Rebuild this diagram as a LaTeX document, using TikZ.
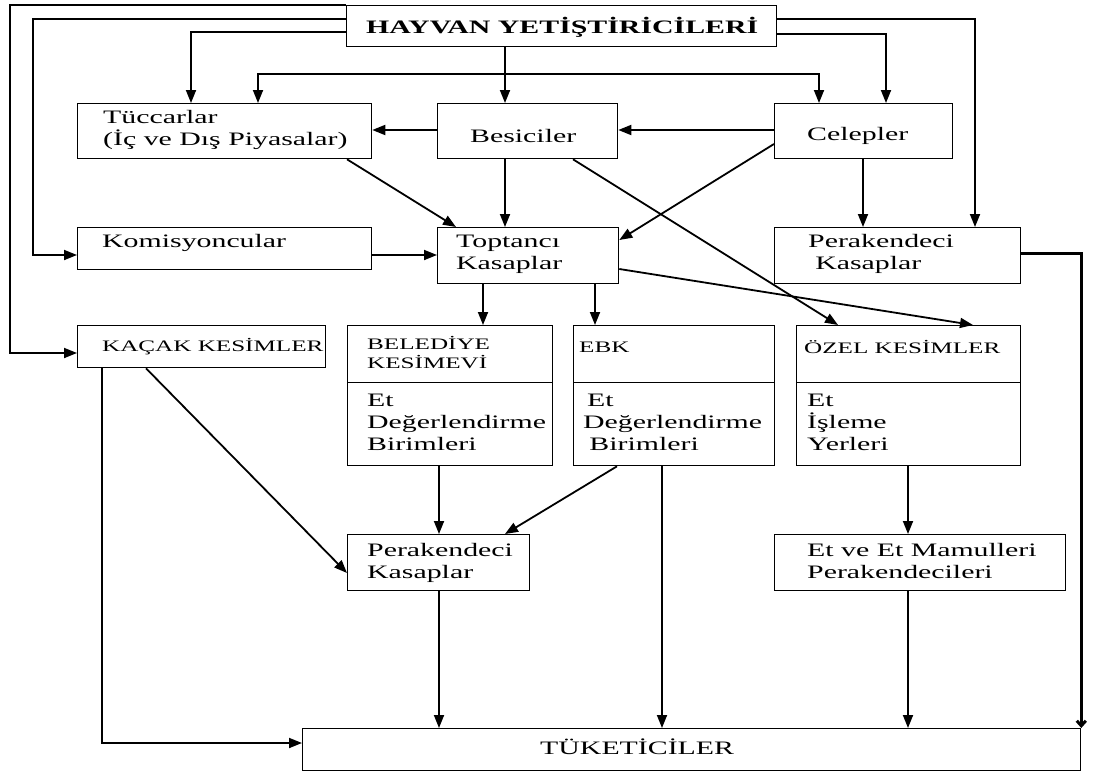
\documentclass[tikz,border=0pt]{standalone}
\usepackage{fontspec}
\setmainfont{Liberation Serif}
\usepackage{graphicx}
\usetikzlibrary{arrows.meta}
\newcommand{\sx}[1]{\scalebox{1.57}[1]{#1}}
\newcommand{\ml}[1]{\begin{tabular}{@{}l@{}}#1\end{tabular}}
\tikzset{
  box/.style={draw=black, line width=1.3pt, anchor=north west, inner sep=0pt},
  txt/.style={inner sep=0pt, anchor=west, font=\fontsize{19}{22}\selectfont},
  captxt/.style={inner sep=0pt, anchor=west, font=\fontsize{16}{17.5}\selectfont},
  arr/.style={line width=1.8pt, -{Triangle[length=13pt,width=10pt]}},
  darr/.style={line width=1.8pt, {Triangle[length=13pt,width=10pt]}-{Triangle[length=13pt,width=10pt]}},
  farr/.style={line width=3pt, -{Straight Barb[length=5pt,width=9pt]}},
}
\begin{document}
\begin{tikzpicture}[x=1pt,y=-1pt]
\useasboundingbox (0,0) rectangle (1093,771);
% boxes
\node[box, minimum width=430pt, minimum height=41pt] (hay) at (346,5) {};
\node[box, minimum width=294pt, minimum height=55pt] (tuc) at (77,103) {};
\node[box, minimum width=180pt, minimum height=55pt] (bes) at (437,103) {};
\node[box, minimum width=178pt, minimum height=55pt] (cel) at (774,103) {};
\node[box, minimum width=294pt, minimum height=42pt] (kom) at (77,227) {};
\node[box, minimum width=181pt, minimum height=56pt] (top) at (437,227) {};
\node[box, minimum width=246pt, minimum height=56pt] (perR) at (774,227) {};
\node[box, minimum width=248pt, minimum height=42pt] (kac) at (77,325) {};
\node[box, minimum width=205pt, minimum height=57pt] (belT) at (347,325) {};
\node[box, minimum width=205pt, minimum height=83pt] (belB) at (347,382) {};
\node[box, minimum width=201pt, minimum height=57pt] (ebkT) at (573,325) {};
\node[box, minimum width=201pt, minimum height=83pt] (ebkB) at (573,382) {};
\node[box, minimum width=224pt, minimum height=57pt] (ozeT) at (796,325) {};
\node[box, minimum width=224pt, minimum height=83pt] (ozeB) at (796,382) {};
\node[box, minimum width=182pt, minimum height=56pt] (perB) at (347,534) {};
\node[box, minimum width=291pt, minimum height=56pt] (etm) at (774,534) {};
\node[box, minimum width=778pt, minimum height=42pt] (tuk) at (302,728) {};
% texts
\node[txt, font=\fontsize{19}{22}\selectfont\bfseries] (thay) at (366,27) {\sx{HAYVAN YETİŞTİRİCİLERİ}};
\node[txt] (ttuc) at (103,130) {\sx{\ml{Tüccarlar\\(İç ve Dış Piyasalar)}}};
\node[txt] (tbes) at (470,136) {\sx{Besiciler}};
\node[txt] (tcel) at (807,136) {\sx{Celepler}};
\node[txt] (tkom) at (102,243) {\sx{Komisyoncular}};
\node[txt] (ttop) at (456,254) {\sx{\ml{Toptancı\\Kasaplar}}};
\node[txt] (tperR) at (808,254) {\sx{\ml{Perakendeci\\\hspace*{4.5pt}Kasaplar}}};
\node[captxt] (tkac) at (102,347) {\sx{KAÇAK KESİMLER}};
\node[captxt] (tbelT) at (367,355) {\sx{\ml{BELEDİYE\\KESİMEVİ}}};
\node[txt] (tbelB) at (367,424) {\sx{\ml{Et\\Değerlendirme\\Birimleri}}};
\node[captxt] (tebkT) at (579,347) {\sx{EBK}};
\node[txt] (tebkB) at (583,424) {\sx{\ml{\hspace*{2.5pt}Et\\Değerlendirme\\\hspace*{4pt}Birimleri}}};
\node[captxt] (tozeT) at (804,347) {\sx{ÖZEL KESİMLER}};
\node[txt] (tozeB) at (807,424) {\sx{\ml{Et\\İşleme\\Yerleri}}};
\node[txt] (tperB) at (367,563) {\sx{\ml{Perakendeci\\Kasaplar}}};
\node[txt] (tetm) at (807,563) {\sx{\ml{Et ve Et Mamulleri\\Perakendecileri}}};
\node[txt] (ttuk) at (540,747) {\sx{TÜKETİCİLER}};
% connectors from HAYVAN
\draw[arr] (hay.north west) -| (10,353) -- (kac.west |- 0,353);
\draw[arr] (hay.west |- 0,19) -| (33,255) -- (kom.west |- 0,255);
\draw[arr] (hay.west |- 0,32) -| (tuc.north -| 191,0);
\draw[arr] (hay.south -| 505,0) -- (bes.north -| 505,0);
\draw[darr] (tuc.north -| 258,0) |- (819,74) -- (cel.north -| 819,0);
\draw[arr] (hay.east |- 0,19) -| (perR.north -| 975,0);
\draw[arr] (hay.east |- 0,34) -| (cel.north -| 886,0);
% row 1
\draw[arr] (bes.west |- 0,130) -- (tuc.east |- 0,130);
\draw[arr] (cel.west |- 0,130) -- (bes.east |- 0,130);
\draw[arr] (tuc.south -| 347,0) -- (top.north -| 456,0);
\draw[arr] (bes.south -| 505,0) -- (top.north -| 505,0);
\draw[arr] (bes.south -| 573,0) -- (ozeT.north -| 838,0);
\draw[arr] (cel.west |- 0,144) -- (top.east |- 0,240);
\draw[arr] (cel.south -| 863,0) -- (perR.north -| 863,0);
% row 2
\draw[arr] (kom.east |- 0,255) -- (top.west |- 0,255);
\draw[arr] (top.south -| 483,0) -- (belT.north -| 483,0);
\draw[arr] (top.south -| 595,0) -- (ebkT.north -| 595,0);
\draw[arr] (top.east |- 0,269) -- (ozeT.north -| 973,0);
\draw[farr] (perR.east |- 0,253) -| (tuk.north east);
% lower part
\draw[arr] (kac.south -| 102,0) |- (tuk.west |- 0,743);
\draw[arr] (kac.south -| 146,0) -- (perB.west |- 0,573);
\draw[arr] (belB.south -| 439,0) -- (perB.north -| 439,0);
\draw[arr] (ebkB.south -| 617,0) -- (perB.north -| 505,0);
\draw[arr] (ebkB.south -| 662,0) -- (tuk.north -| 662,0);
\draw[arr] (ozeB.south -| 908,0) -- (etm.north -| 908,0);
\draw[arr] (perB.south -| 439,0) -- (tuk.north -| 439,0);
\draw[arr] (etm.south -| 908,0) -- (tuk.north -| 908,0);
\end{tikzpicture}
\end{document}
